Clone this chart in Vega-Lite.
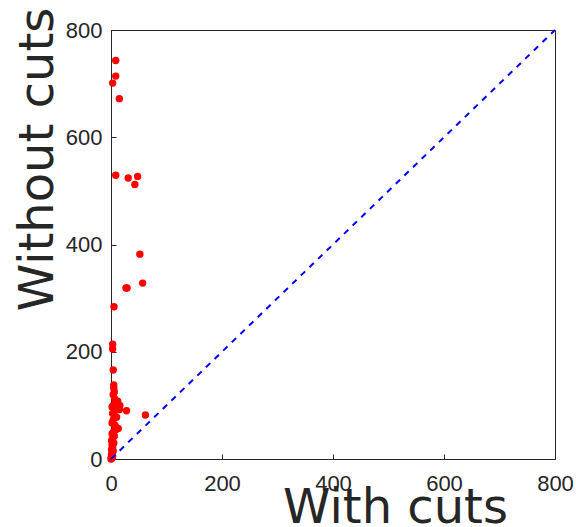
{
  "$schema": "https://vega.github.io/schema/vega-lite/v6.json",
  "width": 444,
  "height": 429,
  "autosize": {"type": "none"},
  "padding": {"left": 111, "top": 30, "right": 21, "bottom": 68},
  "background": "white",
  "config": {
    "view": {"stroke": "#262626", "strokeWidth": 1},
    "axis": {
      "grid": false,
      "domainColor": "#262626",
      "tickColor": "#262626",
      "labelColor": "#262626",
      "labelFont": "Liberation Sans",
      "labelFontSize": 22,
      "labelFlush": false,
      "labelOverlap": false,
      "labelBound": false,
      "titleFont": "DejaVu Sans",
      "titleFontSize": 48,
      "titleFontWeight": "normal",
      "titleColor": "#262626",
      "tickSize": -5,
      "labelPadding": 15
    }
  },
  "datasets": {
    "pts": [
      {"with": 8.5, "without": 743},
      {"with": 8.5, "without": 714},
      {"with": 3, "without": 701},
      {"with": 15, "without": 672},
      {"with": 8.5, "without": 529},
      {"with": 31, "without": 524},
      {"with": 48, "without": 527},
      {"with": 43, "without": 512},
      {"with": 52, "without": 382},
      {"with": 57, "without": 328},
      {"with": 27, "without": 319},
      {"with": 29, "without": 319},
      {"with": 5.4, "without": 284},
      {"with": 3, "without": 214},
      {"with": 3, "without": 205},
      {"with": 4, "without": 166},
      {"with": 5, "without": 138},
      {"with": 5, "without": 132},
      {"with": 6, "without": 125},
      {"with": 4, "without": 120},
      {"with": 7, "without": 112},
      {"with": 12, "without": 108},
      {"with": 8, "without": 104},
      {"with": 4, "without": 100},
      {"with": 16, "without": 100},
      {"with": 2, "without": 97},
      {"with": 11, "without": 95},
      {"with": 15, "without": 92},
      {"with": 28, "without": 90},
      {"with": 62, "without": 82},
      {"with": 6, "without": 88},
      {"with": 3, "without": 85},
      {"with": 10, "without": 78},
      {"with": 4, "without": 73},
      {"with": 2, "without": 67},
      {"with": 7, "without": 63},
      {"with": 8, "without": 60},
      {"with": 13, "without": 57},
      {"with": 9, "without": 55},
      {"with": 4, "without": 50},
      {"with": 2, "without": 47},
      {"with": 6, "without": 43},
      {"with": 3, "without": 38},
      {"with": 1, "without": 34},
      {"with": 5, "without": 30},
      {"with": 2, "without": 26},
      {"with": 3, "without": 22},
      {"with": 1, "without": 18},
      {"with": 4, "without": 15},
      {"with": 2, "without": 12},
      {"with": 1, "without": 8},
      {"with": 3, "without": 5},
      {"with": 0.5, "without": 3},
      {"with": 2, "without": 2},
      {"with": 1, "without": 1},
      {"with": 0, "without": 0}
    ],
    "diag": [
      {"with": 0, "without": 0},
      {"with": 800, "without": 800}
    ]
  },
  "layer": [
    {
      "data": {"name": "pts"},
      "mark": {"type": "circle", "color": "#ff0000", "opacity": 1, "size": 55},
      "encoding": {
        "x": {
          "field": "with", "type": "quantitative",
          "scale": {"domain": [0, 800], "nice": false, "zero": false},
          "axis": {
            "values": [0, 200, 400, 600, 800],
            "labelPadding": 19,
            "title": "With cuts",
            "titleAlign": "center",
            "titleBaseline": "alphabetic",
            "titleX": 284,
            "titleY": 63
          }
        },
        "y": {
          "field": "without", "type": "quantitative",
          "scale": {"domain": [0, 800], "nice": false, "zero": false},
          "axis": {
            "values": [0, 200, 400, 600, 800],
            "title": "Without cuts",
            "titleAngle": -90,
            "titleAlign": "center",
            "titleBaseline": "alphabetic",
            "titleX": -59,
            "titleY": 129,
            "labelPadding": 14
          }
        }
      }
    },
    {
      "data": {"name": "diag"},
      "mark": {"type": "line", "color": "#0000ff", "strokeWidth": 2, "strokeDash": [6, 6]},
      "encoding": {
        "x": {"field": "with", "type": "quantitative"},
        "y": {"field": "without", "type": "quantitative"}
      }
    }
  ]
}
